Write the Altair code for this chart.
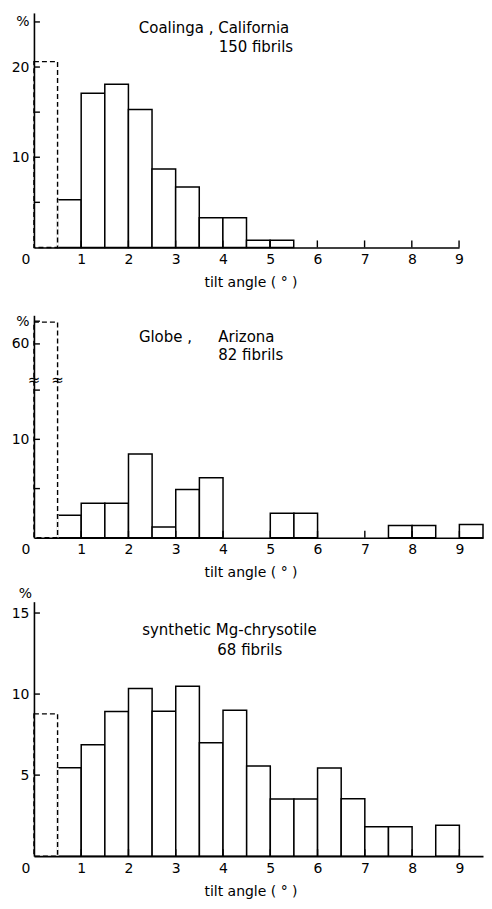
import altair as alt
import pandas as pd

FONT = "DejaVu Sans"
TITLE_X = "tilt  angle  ( ° )"

# ---------------- data ----------------
# Panel 1: Coalinga, California (150 fibrils)
p1_starts = [0.5, 1.0, 1.5, 2.0, 2.5, 3.0, 3.5, 4.0, 4.5, 5.0]
p1_values = [5.3, 17.1, 18.1, 15.3, 8.7, 6.7, 3.3, 3.3, 0.8, 0.8]
p1_dashed = 20.6
p1_texts = ["Coalinga , California", "150 fibrils"]
p1_text_x = [2.22, 3.91]
p1_text_y = [24.3, 22.2]

# Panel 2: Globe, Arizona (82 fibrils)
p2_starts = [0.5, 1.0, 1.5, 2.0, 2.5, 3.0, 3.5, 5.0, 5.5, 7.5, 8.0, 9.0]
p2_values = [2.3, 3.5, 3.5, 8.5, 1.1, 4.9, 6.1, 2.5, 2.5, 1.25, 1.25, 1.35]
p2_dashed = 64.8
p2_texts = ["Globe ,", "Arizona", "82 fibrils"]
p2_text_x = [2.22, 3.9, 3.9]
p2_text_y = [61.5, 61.5, 57.5]

# Panel 3: synthetic Mg-chrysotile (68 fibrils)
p3_starts = [0.5, 1.0, 1.5, 2.0, 2.5, 3.0, 3.5, 4.0, 4.5, 5.0, 5.5, 6.0, 6.5, 7.0, 7.5, 8.5]
p3_values = [5.45, 6.88, 8.92, 10.34, 8.94, 10.49, 7.0, 9.0, 5.56, 3.52, 3.52, 5.44, 3.54, 1.81, 1.81, 1.9]
p3_dashed = 8.78
p3_texts = ["synthetic Mg-chrysotile", "68 fibrils"]
p3_text_x = [2.29, 3.88]
p3_text_y = [13.95, 12.72]

x_tick_values = [0, 1, 2, 3, 4, 5, 6, 7, 8, 9]
BIN = 0.5


def panel(starts, values, dashed, texts, tx, ty, xdom, width, height,
          yscale, y_ticks, y_label_expr, y_title=None, breaks=None):
    bars = pd.DataFrame({"start": starts, "value": values})
    dash = pd.DataFrame({"start": [0.0], "value": [dashed]})
    ann = pd.DataFrame({"x": tx, "y": ty, "t": texts})
    xt = pd.DataFrame({"x": [v for v in x_tick_values if v > 0]})
    yt = pd.DataFrame({"y": y_ticks})

    xs = alt.Scale(domain=xdom, nice=False, zero=False)

    yaxis_kwargs = dict(values=y_ticks, ticks=False, labelExpr=y_label_expr,
                        labelFontSize=14, labelPadding=5, labelFont=FONT,
                        domainWidth=1.6, zindex=1)
    if y_title:
        yaxis = alt.Axis(title=y_title, titleAngle=0, titleX=-9, titleY=-8,
                         titleAlign="center", titleBaseline="middle",
                         titleFontSize=14, titleFontWeight="normal", titleFont=FONT,
                         **yaxis_kwargs)
    else:
        yaxis = alt.Axis(title=None, **yaxis_kwargs)

    xaxis = alt.Axis(values=x_tick_values, ticks=False, labelFontSize=14,
                     labelFont=FONT, labelPadding=5, labelAngle=0,
                     labelAlign={"condition": {"test": "datum.value === 0", "value": "right"}, "value": "center"},
                     labelOffset={"condition": {"test": "datum.value === 0", "value": -4}, "value": 0},
                     title=TITLE_X, titleFontSize=14, titleFontWeight="normal",
                     titleFont=FONT, titleX=217, titleY=35, titleAlign="center",
                     titleBaseline="middle", domainWidth=1.6, zindex=1)

    def X(f):
        return alt.X(f, scale=xs, axis=xaxis)

    def Y(f):
        return alt.Y(f, scale=yscale, axis=yaxis)

    base_bars = alt.Chart(bars).transform_calculate(end=f"datum.start + {BIN}")
    solid = base_bars.mark_rect(fill="white", stroke="black", strokeWidth=1.5).encode(
        x=X("start:Q"), x2="end:Q", y=Y("value:Q"), y2=alt.datum(0),
    )
    # hide the solid left edge of the bar adjoining the dashed one
    cover = alt.Chart(bars).transform_filter("datum.start == 0.5").mark_rule(
        color="white", strokeWidth=2.4).encode(
        x=X("start:Q"), y=Y("value:Q"), y2=alt.datum(0),
    )
    dashed_bar = alt.Chart(dash).transform_calculate(end=f"datum.start + {BIN}").mark_rect(
        fill="transparent", stroke="black", strokeWidth=1.4, strokeDash=[5, 3]).encode(
        x=X("start:Q"), x2="end:Q", y=Y("value:Q"), y2=alt.datum(0),
    )
    xticks = alt.Chart(xt).mark_rule(color="black", strokeWidth=1.4).encode(
        x=X("x:Q"), y=alt.value(height), y2=alt.value(height - 7),
    )
    yticks = alt.Chart(yt).mark_rule(color="black", strokeWidth=1.4).encode(
        y=Y("y:Q"), x=alt.value(0), x2=alt.value(6),
    )
    text = alt.Chart(ann).mark_text(align="left", baseline="middle", font=FONT,
                                    fontSize=15, color="black").encode(
        x=X("x:Q"), y=Y("y:Q"), text="t:N",
    )
    layers = [solid, cover, dashed_bar, xticks, yticks, text]
    if breaks is not None:
        bdf = pd.DataFrame({"x": breaks[0], "y": breaks[1]})
        brk = alt.Chart(bdf).mark_text(text="≈", fontSize=15, font=FONT,
                                       color="black", align="center",
                                       baseline="middle").encode(
            x=X("x:Q"), y=Y("y:Q"),
        )
        layers.append(brk)
    return alt.layer(*layers).properties(width=width, height=height)


p1 = panel(p1_starts, p1_values, p1_dashed, p1_texts, p1_text_x, p1_text_y,
           [0, 9], 426, 235,
           alt.Scale(domain=[0, 26], nice=False, zero=False),
           [5, 10, 15, 20, 25],
           "datum.value == 25 ? '%' : (datum.value == 10 || datum.value == 20 ? datum.label : '')")

p2 = panel(p2_starts, p2_values, p2_dashed, p2_texts, p2_text_x, p2_text_y,
           [0, 9.5], 450, 227,
           alt.Scale(domain=[0, 16, 52, 66.3], range=[227, 69.1, 69.1, 4],
                     nice=False, zero=False),
           [5, 10, 15, 60, 65],
           "datum.value == 65 ? '%' : (datum.value == 10 || datum.value == 60 ? datum.label : '')",
           breaks=([0.0, 0.5], [16, 16]))

p3 = panel(p3_starts, p3_values, p3_dashed, p3_texts, p3_text_x, p3_text_y,
           [0, 9.5], 450, 255,
           alt.Scale(domain=[0, 15.7], nice=False, zero=False),
           [5, 10, 15],
           "datum.label",
           y_title="%")

chart = alt.vconcat(p1, p2, p3, spacing=64, bounds="flush").properties(
    padding={"left": 3, "top": 4, "right": 0, "bottom": 0}
).configure_view(stroke=None).configure_axis(
    grid=False, domainColor="black", labelColor="black", titleColor="black"
)

chart.save("out.html", embed_options={"renderer": "svg", "actions": False})
